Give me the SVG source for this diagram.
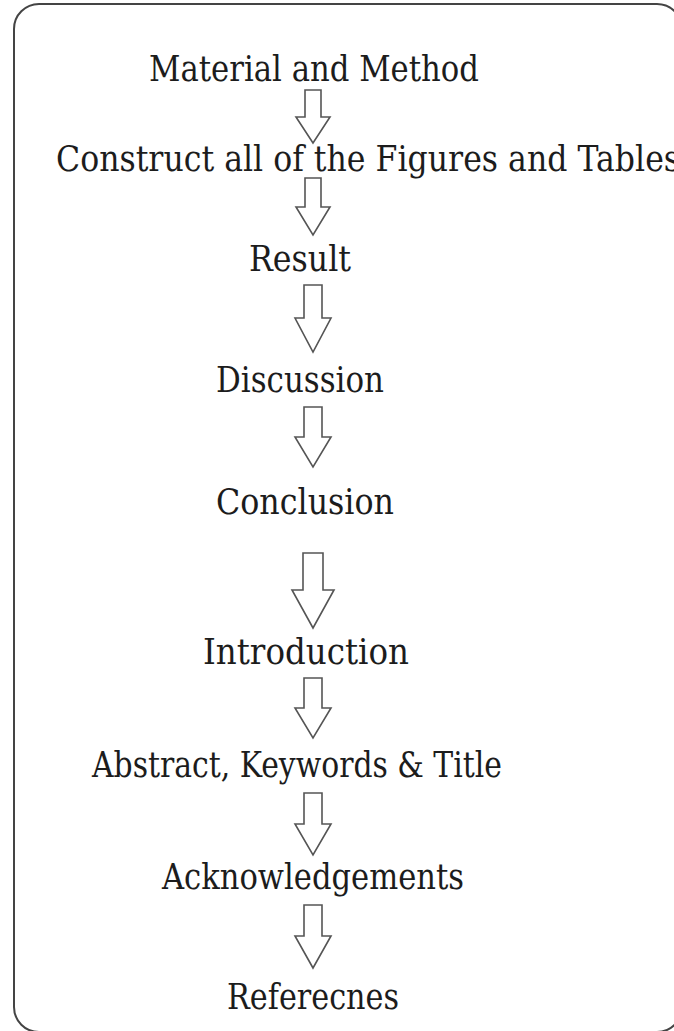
<svg xmlns="http://www.w3.org/2000/svg" width="674" height="1031" viewBox="0 0 674 1031">
<style>
.t{font-family:"DejaVu Serif","Liberation Serif",serif;font-size:35px;fill:#1c1c1c;text-anchor:middle}
.l{text-anchor:start}
.a{fill:#fff;stroke:#555;stroke-width:1.6;stroke-linejoin:miter}
.frame{fill:#fff;stroke:#444;stroke-width:2}
</style>
<rect width="674" height="1031" fill="#fff"/>
<rect class="frame" x="14" y="4" width="668" height="1028" rx="25"/>
<g id="n1"><text class="t" x="314" y="81" textLength="330" lengthAdjust="spacingAndGlyphs">Material and Method</text></g>
<g id="n2"><text class="t l" x="56" y="171" textLength="624" lengthAdjust="spacingAndGlyphs">Construct all of the Figures and Tables</text></g>
<g id="n3"><text class="t" x="300" y="271" textLength="102" lengthAdjust="spacingAndGlyphs">Result</text></g>
<g id="n4"><text class="t" x="300" y="392" textLength="168" lengthAdjust="spacingAndGlyphs">Discussion</text></g>
<g id="n5"><text class="t" x="305" y="514" textLength="178" lengthAdjust="spacingAndGlyphs">Conclusion</text></g>
<g id="n6"><text class="t" x="306" y="664" textLength="206" lengthAdjust="spacingAndGlyphs">Introduction</text></g>
<g id="n7"><text class="t" x="297" y="777" textLength="410" lengthAdjust="spacingAndGlyphs">Abstract, Keywords &amp; Title</text></g>
<g id="n8"><text class="t" x="313" y="889" textLength="302" lengthAdjust="spacingAndGlyphs">Acknowledgements</text></g>
<g id="n9"><text class="t" x="313" y="1009" textLength="172" lengthAdjust="spacingAndGlyphs">Referecnes</text></g>
<g id="connectors">
<path class="a" d="M305,90 H321 V117 H330 L313,143 L296,117 H305 Z"/>
<path class="a" d="M305,178 H321 V207 H330 L313,235 L296,207 H305 Z"/>
<path class="a" d="M304,285 H322 V318 H331 L313,352 L295,318 H304 Z"/>
<path class="a" d="M304,407 H322 V437 H331 L313,467 L295,437 H304 Z"/>
<path class="a" d="M303,553 H323 V590 H334 L313,628 L292,590 H303 Z"/>
<path class="a" d="M304,678 H322 V708 H331 L313,738 L295,708 H304 Z"/>
<path class="a" d="M304,793 H322 V824 H331 L313,855 L295,824 H304 Z"/>
<path class="a" d="M304,905 H322 V936 H331 L313,968 L295,936 H304 Z"/>
</g>
</svg>
